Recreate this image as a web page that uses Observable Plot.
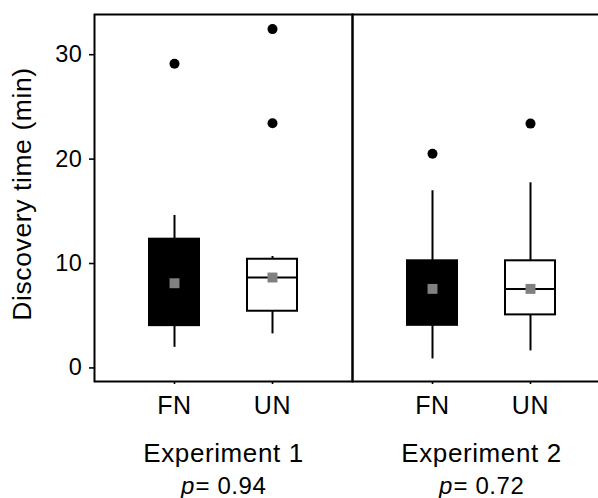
<!DOCTYPE html>
<html><head><meta charset="utf-8">
<script src="https://cdn.jsdelivr.net/npm/d3@7"></script>
<script src="https://cdn.jsdelivr.net/npm/@observablehq/plot@0.6"></script>
<style>
html,body{margin:0;padding:0;overflow:hidden;background:#fff;width:598px;height:498px}
#chart svg{max-width:none !important;height:498px !important;display:block}
</style></head><body><div id="chart"></div>
<script>
// ---- data ----
const experiments = ["Experiment 1", "Experiment 1", "Experiment 2", "Experiment 2"];
const groups = ["FN", "UN", "FN", "UN"];
const whiskerLow = [1.97, 3.26, 0.86, 1.63];
const q1 = [4.05, 5.43, 4.08, 5.08];
const medians = [8.1, 8.66, 7.6, 7.57];
const q3 = [12.33, 10.41, 10.26, 10.26];
const whiskerHigh = [14.6, 10.67, 16.97, 17.73];
const means = [8.11, 8.66, 7.57, 7.57];

const outlierExperiment = ["Experiment 1", "Experiment 1", "Experiment 1", "Experiment 2", "Experiment 2"];
const outlierGroup = ["FN", "UN", "UN", "FN", "UN"];
const outlierValue = [29.14, 32.45, 23.44, 20.51, 23.4];

const experimentNames = ["Experiment 1", "Experiment 2"];
const pValues = ["0.94", "0.72"];
const groupNames = ["FN", "UN"];
const yTicks = [0, 10, 20, 30];
const yLabel = "Discovery time (min)";

// ---- tables built from the arrays ----
const boxes = groups.map((g, i) => ({
  experiment: experiments[i], group: g, lo: whiskerLow[i], q1: q1[i],
  median: medians[i], q3: q3[i], hi: whiskerHigh[i], mean: means[i]
}));
const outliers = outlierValue.map((v, i) => ({experiment: outlierExperiment[i], group: outlierGroup[i], value: v}));
const pRows = experimentNames.map((e, i) => ({experiment: e, p: pValues[i]}));
const labelRows = [{experiment: experimentNames[0], label: yLabel}];

const font = "'Liberation Sans', Arial, Helvetica, sans-serif";

const chart = Plot.plot({
  width: 610, height: 498,
  marginLeft: 93, marginRight: 0, marginTop: 14, marginBottom: 117,
  style: {fontFamily: font, background: "white", color: "black", overflow: "visible", maxWidth: "none", letterSpacing: "0.6px"},
  fx: {domain: experimentNames, padding: 0, axis: null},
  x: {type: "band", domain: groupNames, paddingInner: 0.485, paddingOuter: 0.548, axis: null},
  y: {domain: [-1.3, 33.85], axis: null},
  color: {domain: groupNames, range: ["black", "white"]},
  marks: [
    Plot.ruleX(boxes, {fx: "experiment", x: "group", y1: "lo", y2: "hi", stroke: "black", strokeWidth: 2}),
    Plot.barY(boxes, {fx: "experiment", x: "group", y1: "q1", y2: "q3", fill: "group", stroke: "black", strokeWidth: 2}),
    Plot.tickY(boxes, {fx: "experiment", x: "group", y: "median", stroke: "black", strokeWidth: 2}),
    Plot.dot(boxes, {fx: "experiment", x: "group", y: "mean", symbol: "square", r: 5.6, fill: "#808080", stroke: null}),
    Plot.dot(outliers, {fx: "experiment", x: "group", y: "value", r: 5, fill: "black", stroke: null}),
    Plot.frame({stroke: "black", strokeWidth: 2}),
    Plot.axisY({ticks: yTicks, tickSize: 5, tickPadding: 7, fontSize: 23.5, tickFormat: d => String(d), label: null, strokeWidth: 1.6}),
    Plot.axisX({tickSize: 3, tickPadding: 12, fontSize: 25, label: null, strokeWidth: 1.6}),
    Plot.text(labelRows, {fx: "experiment", text: "label", frameAnchor: "left", textAnchor: "middle", rotate: -90, dx: -82, dy: -4, lineAnchor: "top", fontSize: 26.5}),
    Plot.text(pRows, {fx: "experiment", text: "experiment", frameAnchor: "bottom", lineAnchor: "top", dy: 62, fontSize: 26}),
    Plot.text(pRows, {fx: "experiment", text: d => "p", frameAnchor: "bottom", lineAnchor: "top", dy: 95, dx: -28.5, textAnchor: "end", fontStyle: "italic", fontSize: 24}),
    Plot.text(pRows, {fx: "experiment", text: d => "= " + d.p, frameAnchor: "bottom", lineAnchor: "top", dy: 95, dx: -28, textAnchor: "start", fontSize: 24})
  ]
});
document.getElementById("chart").appendChild(chart);
</script>
</body></html>
